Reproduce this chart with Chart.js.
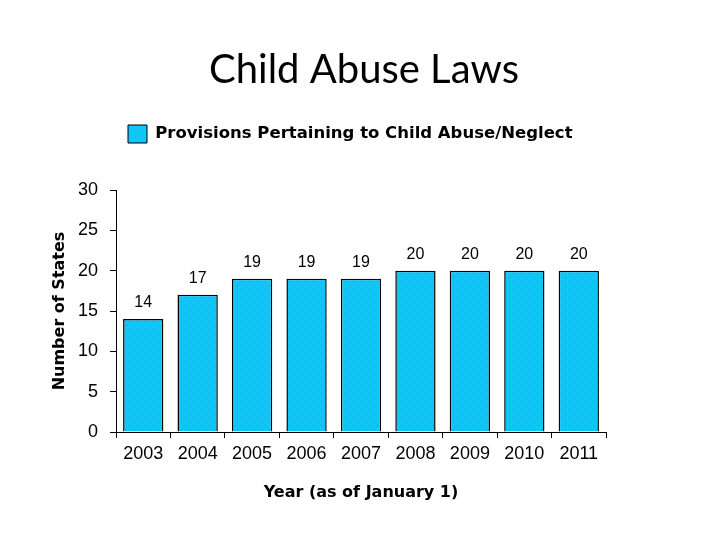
<!DOCTYPE html>
<html>
<head>
<meta charset="utf-8">
<script src="https://cdn.jsdelivr.net/npm/chart.js@4/dist/chart.umd.min.js"></script>
<style>
html,body{margin:0;padding:0;background:#fff;}
#wrap{position:relative;width:728px;height:546px;}
</style>
</head>
<body>
<div id="wrap"><canvas id="c" width="728" height="546"></canvas></div>
<script>
const titleText = 'Child Abuse Laws';
const seriesName = 'Provisions Pertaining to Child Abuse/Neglect';
const years = ['2003','2004','2005','2006','2007','2008','2009','2010','2011'];
const states = [14, 17, 19, 19, 19, 20, 20, 20, 20];
const yTicks = [0, 5, 10, 15, 20, 25, 30];
const xTitle = 'Year (as of January 1)';
const yTitle = 'Number of States';

const SANS = '"Liberation Sans", Arial, sans-serif';
const BOLD = '"DejaVu Sans", Verdana, sans-serif';

function makePattern() {
  const p = document.createElement('canvas');
  p.width = 8; p.height = 8;
  const g = p.getContext('2d');
  g.fillStyle = '#0FC6F7';
  g.fillRect(0, 0, 8, 8);
  g.fillStyle = '#2A8FD0';
  g.fillRect(1, 1, 1, 1);
  g.fillRect(5, 5, 1, 1);
  return document.getElementById('c').getContext('2d').createPattern(p, 'repeat');
}
const barFill = makePattern();

const valueLabels = {
  id: 'valueLabels',
  afterDatasetsDraw(chart) {
    const ctx = chart.ctx;
    const meta = chart.getDatasetMeta(0);
    ctx.save();
    ctx.fillStyle = '#000';
    ctx.font = '16px ' + SANS;
    ctx.textAlign = 'center';
    ctx.textBaseline = 'alphabetic';
    meta.data.forEach((bar, i) => {
      ctx.fillText(String(chart.data.datasets[0].data[i]), bar.x, bar.y - 12);
    });
    ctx.restore();
  }
};

new Chart(document.getElementById('c'), {
  type: 'bar',
  data: {
    labels: years,
    datasets: [{
      label: seriesName,
      data: states,
      backgroundColor: barFill,
      borderColor: '#000',
      borderWidth: 1.5,
      borderSkipped: 'bottom',
      categoryPercentage: 0.74,
      barPercentage: 1.0,
      xAxisID: 'x',
      yAxisID: 'y'
    }]
  },
  options: {
    responsive: false,
    animation: false,
    devicePixelRatio: 1,
    layout: { padding: { left: 10, right: 10, top: 0, bottom: 10 } },
    plugins: {
      title: {
        display: true,
        text: titleText,
        color: '#000',
        font: { family: 'Lato, "Open Sans", sans-serif', size: 40, weight: 'normal' },
        padding: { top: 46, bottom: 19 }
      },
      legend: {
        display: true,
        fullSize: false,
        align: 'start',
        labels: {
          color: '#000',
          font: { family: BOLD, size: 16.5, weight: 'bold' },
          boxWidth: 19,
          boxHeight: 18,
          padding: 12,
          generateLabels(chart) {
            return [{
              text: seriesName,
              fillStyle: '#0FC6F7',
              strokeStyle: '#000',
              lineWidth: 1,
              fontColor: '#000',
              datasetIndex: 0
            }];
          }
        },
        onClick: null
      },
      tooltip: { enabled: false }
    },
    scales: {
      x: {
        position: 'bottom',
        offset: true,
        afterFit(s) { s.height = 104; },
        grid: { display: true, drawOnChartArea: false, offset: true, tickLength: 6, color: '#000', lineWidth: 1 },
        border: { display: true, color: '#000', width: 1 },
        ticks: {
          color: '#000',
          font: { family: SANS, size: 18 },
          padding: 5,
          maxRotation: 0
        },
        title: {
          display: true,
          text: xTitle,
          color: '#000',
          font: { family: BOLD, size: 16, weight: 'bold' },
          padding: { top: 0, bottom: 34 }
        }
      },
      xTop: {
        type: 'linear',
        position: 'top',
        display: true,
        afterFit(s) { s.height = 37; },
        grid: { display: false },
        border: { display: false },
        ticks: { display: false }
      },
      y: {
        position: 'left',
        min: 0,
        max: 30,
        afterFit(s) { s.width = 106; },
        afterBuildTicks(scale) { scale.ticks = yTicks.map(v => ({ value: v })); },
        grid: { display: true, drawOnChartArea: false, tickLength: 6, color: '#000', lineWidth: 1 },
        border: { display: true, color: '#000', width: 1 },
        ticks: {
          color: '#000',
          font: { family: SANS, size: 18 },
          padding: 12
        },
        title: {
          display: true,
          text: yTitle,
          color: '#000',
          font: { family: BOLD, size: 16, weight: 'bold' },
          padding: { top: 40, bottom: 0 }
        }
      },
      yRight: {
        type: 'linear',
        position: 'right',
        display: true,
        afterFit(s) { s.width = 112; },
        grid: { display: false },
        border: { display: false },
        ticks: { display: false }
      }
    }
  },
  plugins: [valueLabels]
});
</script>
</body>
</html>
